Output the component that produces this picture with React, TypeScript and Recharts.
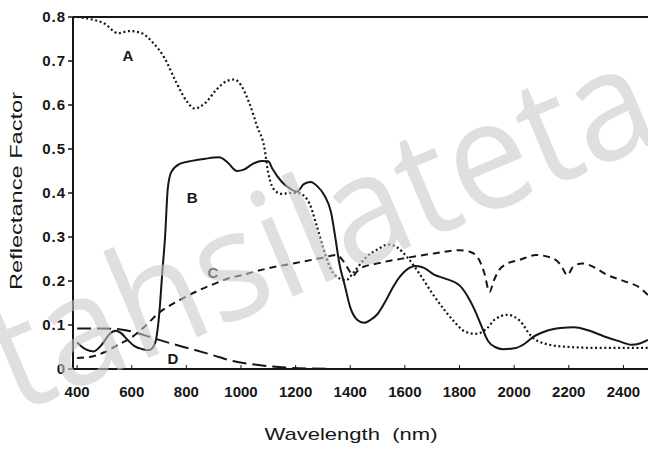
import React from 'react';
import { LineChart, Line, XAxis, YAxis, ReferenceLine, ReferenceDot } from 'recharts';

// Curve A (dotted)
const wavelengthsA = [400, 450, 500, 550, 590, 630, 680, 720, 760, 800, 830, 870, 910, 950, 975, 1000, 1030, 1060, 1085, 1100, 1125, 1150, 1180, 1210, 1250, 1275, 1300, 1325, 1350, 1385, 1410, 1460, 1500, 1540, 1570, 1610, 1655, 1700, 1750, 1780, 1820, 1860, 1900, 1930, 1975, 2020, 2065, 2110, 2200, 2300, 2400, 2490];
const reflectanceA = [0.8, 0.795, 0.785, 0.763, 0.768, 0.765, 0.74, 0.707, 0.655, 0.61, 0.592, 0.605, 0.635, 0.655, 0.658, 0.645, 0.605, 0.55, 0.505, 0.445, 0.405, 0.398, 0.4, 0.4, 0.377, 0.33, 0.277, 0.232, 0.21, 0.202, 0.218, 0.255, 0.272, 0.283, 0.277, 0.253, 0.215, 0.172, 0.13, 0.108, 0.085, 0.08, 0.092, 0.113, 0.123, 0.11, 0.073, 0.058, 0.05, 0.048, 0.048, 0.048];

// Curve B (solid)
const wavelengthsB = [400, 430, 460, 490, 520, 540, 560, 585, 610, 640, 665, 685, 700, 712, 722, 732, 745, 775, 820, 870, 920, 950, 985, 1010, 1040, 1075, 1100, 1115, 1150, 1180, 1205, 1230, 1255, 1280, 1305, 1330, 1345, 1360, 1380, 1400, 1425, 1450, 1475, 1500, 1530, 1560, 1600, 1640, 1670, 1705, 1750, 1800, 1830, 1855, 1880, 1905, 1930, 1960, 2000, 2040, 2070, 2120, 2170, 2220, 2270, 2330, 2380, 2430, 2460, 2490];
const reflectanceB = [0.06, 0.045, 0.04, 0.055, 0.08, 0.087, 0.082, 0.066, 0.052, 0.045, 0.043, 0.058, 0.12, 0.22, 0.3, 0.41, 0.448, 0.466, 0.473, 0.478, 0.481, 0.47, 0.45, 0.453, 0.465, 0.473, 0.472, 0.455, 0.425, 0.41, 0.403, 0.42, 0.425, 0.415, 0.395, 0.355, 0.3, 0.24, 0.19, 0.14, 0.112, 0.105, 0.112, 0.125, 0.155, 0.19, 0.222, 0.234, 0.23, 0.215, 0.205, 0.19, 0.165, 0.135, 0.098, 0.063, 0.05, 0.045, 0.047, 0.058, 0.073, 0.087, 0.093, 0.095, 0.088, 0.074, 0.064, 0.055, 0.058, 0.066];

// Curve C (dashed)
const wavelengthsC = [400, 450, 500, 550, 600, 650, 700, 750, 800, 850, 900, 950, 1000, 1100, 1200, 1300, 1350, 1375, 1395, 1410, 1425, 1440, 1500, 1600, 1700, 1800, 1840, 1870, 1890, 1910, 1925, 1945, 1970, 2020, 2080, 2140, 2170, 2195, 2215, 2250, 2280, 2340, 2410, 2460, 2490];
const reflectanceC = [0.025, 0.028, 0.038, 0.055, 0.072, 0.098, 0.128, 0.148, 0.165, 0.18, 0.193, 0.205, 0.213, 0.229, 0.241, 0.253, 0.259, 0.245, 0.225, 0.212, 0.222, 0.23, 0.24, 0.252, 0.262, 0.27, 0.266, 0.25, 0.22, 0.175, 0.2, 0.225, 0.238, 0.248, 0.259, 0.252, 0.237, 0.213, 0.232, 0.24, 0.235, 0.214, 0.198, 0.185, 0.168];

// Curve D (long dashed)
const wavelengthsD = [400, 500, 560, 620, 680, 750, 820, 900, 970, 1050, 1150, 1250, 1400, 1500];
const reflectanceD = [0.092, 0.092, 0.09, 0.082, 0.07, 0.057, 0.045, 0.031, 0.018, 0.01, 0.004, 0.001, 0, 0];

const xTicks = [400, 600, 800, 1000, 1200, 1400, 1600, 1800, 2000, 2200, 2400];
const yTicks = [0, 0.1, 0.2, 0.3, 0.4, 0.5, 0.6, 0.7, 0.8];
const yTickLabels = ['0', '0.1', '0.2', '0.3', '0.4', '0.5', '0.6', '0.7', '0.8'];

const curveNames = ['A', 'B', 'C', 'D'];
const curveLabelX = [586, 821, 897, 751];
const curveLabelY = [0.711, 0.389, 0.22, 0.023];

const toPoints = (xs: number[], ys: number[]) => xs.map((x, i) => ({ x, y: ys[i] }));
const dataA = toPoints(wavelengthsA, reflectanceA);
const dataB = toPoints(wavelengthsB, reflectanceB);
const dataC = toPoints(wavelengthsC, reflectanceC);
const dataD = toPoints(wavelengthsD, reflectanceD);

const INK = '#161616';
const FONT = '"Liberation Sans", Arial, sans-serif';

const YTick = (props: any) => {
  const { x, y, payload } = props;
  const idx = yTicks.indexOf(payload.value);
  const label = idx >= 0 ? yTickLabels[idx] : String(payload.value);
  return (
    <text x={x} y={y} dy="0.36em" textAnchor="end" fontFamily={FONT} fontSize={15} fontWeight="bold" letterSpacing={1} fill={INK}>
      {label}
    </text>
  );
};

const XTick = (props: any) => {
  const { x, y, payload } = props;
  return (
    <text x={x} y={y} dy="0.71em" textAnchor="middle" fontFamily={FONT} fontSize={15} fontWeight="bold" fill={INK}>
      {String(payload.value)}
    </text>
  );
};

export default function App() {
  return (
    <div style={{ position: 'absolute', left: 0, top: 0, width: 648, height: 450, background: '#ffffff', overflow: 'hidden' }}>
      <LineChart width={648} height={450} margin={{ top: 17, right: 0, bottom: 0, left: 0 }}>
        <XAxis
          dataKey="x"
          type="number"
          domain={[385, 2490]}
          ticks={xTicks}
          allowDataOverflow
          height={81}
          tick={<XTick />}
          tickSize={-4}
          tickMargin={21}
          axisLine={{ stroke: INK, strokeWidth: 2 }}
          tickLine={{ stroke: INK, strokeWidth: 1 }}
        />
        <YAxis
          type="number"
          domain={[0, 0.8]}
          ticks={yTicks}
          allowDataOverflow
          width={73}
          tick={<YTick />}
          tickSize={5}
          tickMargin={2}
          axisLine={{ stroke: INK, strokeWidth: 2 }}
          tickLine={{ stroke: INK, strokeWidth: 1.5 }}
        />
        <ReferenceLine y={0.8} stroke={INK} strokeWidth={1.8} />
        <Line data={dataD} dataKey="y" type="monotone" stroke={INK} strokeWidth={2} strokeDasharray="14 6" dot={false} isAnimationActive={false} />
        <Line data={dataC} dataKey="y" type="monotone" stroke={INK} strokeWidth={2} strokeDasharray="7 5" dot={false} isAnimationActive={false} />
        <Line data={dataA} dataKey="y" type="monotone" stroke={INK} strokeWidth={2.2} strokeDasharray="2 2.6" dot={false} isAnimationActive={false} />
        <Line data={dataB} dataKey="y" type="monotone" stroke={INK} strokeWidth={2} dot={false} isAnimationActive={false} />
        {curveNames.map((n, i) => (
          <ReferenceDot
            key={n}
            x={curveLabelX[i]}
            y={curveLabelY[i]}
            r={0.5}
            fill="none"
            stroke="none"
            label={{ value: n, position: 'center', fontFamily: FONT, fontSize: 15, fontWeight: 'bold', fill: INK }}
          />
        ))}
      </LineChart>
      <svg width={648} height={450} style={{ position: 'absolute', left: 0, top: 0, pointerEvents: 'none' }}>
        <text x={351} y={440} textAnchor="middle" fontFamily={FONT} fontSize={17} fill={INK} textLength={173} lengthAdjust="spacingAndGlyphs" style={{ whiteSpace: 'pre' }}>
          Wavelength  (nm)
        </text>
        <text x={0} y={0} transform="translate(22,191) rotate(-90)" textAnchor="middle" fontFamily={FONT} fontSize={17} fill={INK} textLength={198} lengthAdjust="spacingAndGlyphs">
          Reflectance Factor
        </text>
        <text x={0} y={0} transform="translate(16,414) rotate(-23)" fontFamily='"Open Sans", sans-serif' fontSize={152} fill="#c8c8c8" fillOpacity={0.58} textLength={705} lengthAdjust="spacingAndGlyphs">
          tahsilateta
        </text>
      </svg>
    </div>
  );
}
